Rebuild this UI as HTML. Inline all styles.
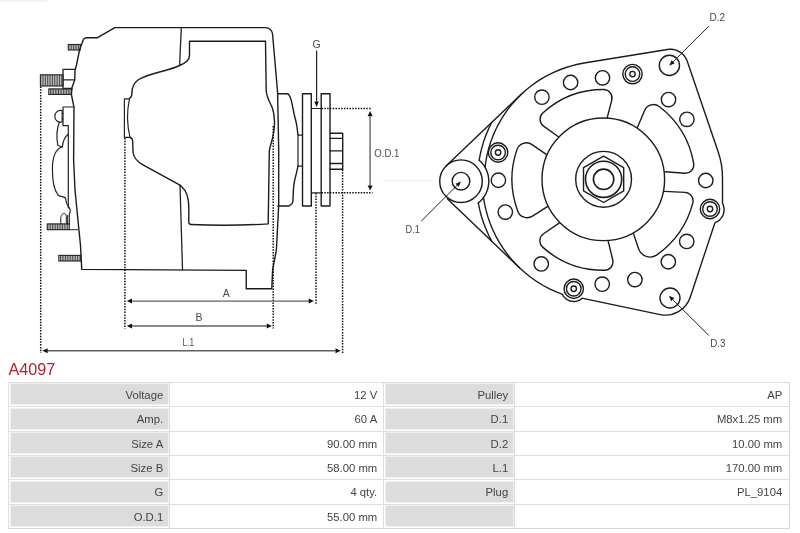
<!DOCTYPE html>
<html><head><meta charset="utf-8"><title>A4097</title>
<style>
html,body{margin:0;padding:0;background:#fff}
body{width:800px;height:533px;position:relative;overflow:hidden;font-family:"Liberation Sans",sans-serif}
#w{position:absolute;left:0;top:0;width:800px;height:533px;will-change:transform;transform:translateZ(0)}
.ttl{position:absolute;left:8.5px;top:359.8px;font-size:16.2px;color:#b3212e;line-height:18px;white-space:nowrap}
.tb{position:absolute;box-sizing:border-box;border:1px solid #d6d6d6}
.c{position:absolute;box-sizing:border-box;border:1px solid #dedede;border-width:1px 0 0 1px;font-size:11.3px;color:#444;text-align:right;white-space:nowrap}
.c span{position:absolute;right:6px;top:0;line-height:24.2px}
.c.l::before{content:"";position:absolute;left:1.5px;top:1.4px;right:1.5px;bottom:1.9px;background:#dcdcdc;box-shadow:0 0 0 0.8px #ececec}
.c.l span{right:5.8px}
.c.v span{right:5.8px}
.c.w span{right:6.8px}
</style></head><body><div id="w">
<svg width="800" height="360" viewBox="0 0 800 360" style="position:absolute;left:0;top:0" font-family="Liberation Sans, sans-serif"><defs><pattern id="h" width="1.6" height="4" patternUnits="userSpaceOnUse"><rect width="1.6" height="4" fill="#fff"/><rect x="0" width="0.8" height="4" fill="#333"/></pattern></defs>
<path d="M558.4,136.75 L543.59,126.1 A8.5,8.5 0 0 1 542.82,112.92 A89.8,89.8 0 0 1 603.57,89.5 A8.5,8.5 0 0 1 611.77,100.13 L607.2,117.8" stroke="#1c1c1c" stroke-width="1.4" fill="none" stroke-linejoin="round" stroke-linecap="round" />
<path d="M637.4,127.4 L644.7,110.3 A9.5,9.5 0 0 1 659.22,106.5 A91.8,91.8 0 0 1 693.69,163.27 A8.5,8.5 0 0 1 684.66,173.23 L665.1,171.7" stroke="#1c1c1c" stroke-width="1.4" fill="none" stroke-linejoin="round" stroke-linecap="round" />
<path d="M664.4,191.35 L685.01,192.4 A8.5,8.5 0 0 1 692.8,203.07 A92.6,92.6 0 0 1 656.9,254.81 A12,12 0 0 1 638.57,248.82 L633.5,233.6" stroke="#1c1c1c" stroke-width="1.4" fill="none" stroke-linejoin="round" stroke-linecap="round" />
<path d="M608.1,240.85 L612.73,259.77 A8.5,8.5 0 0 1 604.6,270.29 A91,91 0 0 1 542.65,247.14 A8.5,8.5 0 0 1 543.54,233.77 L559.1,223.2" stroke="#1c1c1c" stroke-width="1.4" fill="none" stroke-linejoin="round" stroke-linecap="round" />
<path d="M547.4,206.7 L532.5,216.17 A10,10 0 0 1 517.77,211.23 A91.3,91.3 0 0 1 516.96,149.62 A10,10 0 0 1 532.04,144.6 L546.3,154.3" stroke="#1c1c1c" stroke-width="1.4" fill="none" stroke-linejoin="round" stroke-linecap="round" />
<circle cx="603.3" cy="179.3" r="61.3" stroke="#1c1c1c" stroke-width="1.4" fill="#fff" stroke-linejoin="round" stroke-linecap="round" />
<circle cx="603.6" cy="179.3" r="27.9" stroke="#1c1c1c" stroke-width="1.4" fill="none" stroke-linejoin="round" stroke-linecap="round" />
<circle cx="603.6" cy="179.3" r="18.1" stroke="#1c1c1c" stroke-width="1.6" fill="none" stroke-linejoin="round" stroke-linecap="round" />
<circle cx="603.6" cy="179.3" r="10.2" stroke="#1c1c1c" stroke-width="1.6" fill="none" stroke-linejoin="round" stroke-linecap="round" />
<path d="M603.6,156.1 L583.51,167.7 L583.51,190.9 L603.6,202.5 L623.69,190.9 L623.69,167.7 Z" stroke="#1c1c1c" stroke-width="1.4" fill="none" stroke-linejoin="round" stroke-linecap="round" />
<circle cx="541.9" cy="97.15" r="7.2" stroke="#1c1c1c" stroke-width="1.4" fill="none" stroke-linejoin="round" stroke-linecap="round" />
<circle cx="570.6" cy="82.5" r="7.2" stroke="#1c1c1c" stroke-width="1.4" fill="none" stroke-linejoin="round" stroke-linecap="round" />
<circle cx="602.5" cy="77.8" r="7.2" stroke="#1c1c1c" stroke-width="1.4" fill="none" stroke-linejoin="round" stroke-linecap="round" />
<circle cx="668.5" cy="99.6" r="7.2" stroke="#1c1c1c" stroke-width="1.4" fill="none" stroke-linejoin="round" stroke-linecap="round" />
<circle cx="686.9" cy="119.3" r="7.2" stroke="#1c1c1c" stroke-width="1.4" fill="none" stroke-linejoin="round" stroke-linecap="round" />
<circle cx="705.75" cy="180.5" r="7.2" stroke="#1c1c1c" stroke-width="1.4" fill="none" stroke-linejoin="round" stroke-linecap="round" />
<circle cx="686.7" cy="241.4" r="7.2" stroke="#1c1c1c" stroke-width="1.4" fill="none" stroke-linejoin="round" stroke-linecap="round" />
<circle cx="668.3" cy="261.75" r="7.2" stroke="#1c1c1c" stroke-width="1.4" fill="none" stroke-linejoin="round" stroke-linecap="round" />
<circle cx="634.9" cy="279.6" r="7.2" stroke="#1c1c1c" stroke-width="1.4" fill="none" stroke-linejoin="round" stroke-linecap="round" />
<circle cx="602.2" cy="284.2" r="7.2" stroke="#1c1c1c" stroke-width="1.4" fill="none" stroke-linejoin="round" stroke-linecap="round" />
<circle cx="541.25" cy="263.9" r="7.2" stroke="#1c1c1c" stroke-width="1.4" fill="none" stroke-linejoin="round" stroke-linecap="round" />
<circle cx="505.3" cy="212.1" r="7.2" stroke="#1c1c1c" stroke-width="1.4" fill="none" stroke-linejoin="round" stroke-linecap="round" />
<circle cx="498.4" cy="180.25" r="7.2" stroke="#1c1c1c" stroke-width="1.4" fill="none" stroke-linejoin="round" stroke-linecap="round" />
<circle cx="632.5" cy="74.1" r="9.7" stroke="#1c1c1c" stroke-width="1.4" fill="none" stroke-linejoin="round" stroke-linecap="round" />
<circle cx="632.5" cy="74.1" r="7.3" stroke="#1c1c1c" stroke-width="1.4" fill="none" stroke-linejoin="round" stroke-linecap="round" />
<circle cx="632.5" cy="74.1" r="2.7" stroke="#1c1c1c" stroke-width="1.4" fill="none" stroke-linejoin="round" stroke-linecap="round" />
<circle cx="498.1" cy="152.5" r="9.7" stroke="#1c1c1c" stroke-width="1.4" fill="none" stroke-linejoin="round" stroke-linecap="round" />
<circle cx="498.1" cy="152.5" r="7.3" stroke="#1c1c1c" stroke-width="1.4" fill="none" stroke-linejoin="round" stroke-linecap="round" />
<circle cx="498.1" cy="152.5" r="2.7" stroke="#1c1c1c" stroke-width="1.4" fill="none" stroke-linejoin="round" stroke-linecap="round" />
<circle cx="573.75" cy="288.75" r="9.7" stroke="#1c1c1c" stroke-width="1.4" fill="none" stroke-linejoin="round" stroke-linecap="round" />
<circle cx="573.75" cy="288.75" r="7.3" stroke="#1c1c1c" stroke-width="1.4" fill="none" stroke-linejoin="round" stroke-linecap="round" />
<circle cx="573.75" cy="288.75" r="2.7" stroke="#1c1c1c" stroke-width="1.4" fill="none" stroke-linejoin="round" stroke-linecap="round" />
<circle cx="710" cy="209" r="9.7" stroke="#1c1c1c" stroke-width="1.4" fill="none" stroke-linejoin="round" stroke-linecap="round" />
<circle cx="710" cy="209" r="7.3" stroke="#1c1c1c" stroke-width="1.4" fill="none" stroke-linejoin="round" stroke-linecap="round" />
<circle cx="710" cy="209" r="2.7" stroke="#1c1c1c" stroke-width="1.4" fill="none" stroke-linejoin="round" stroke-linecap="round" />
<circle cx="669.4" cy="65.4" r="10.1" stroke="#1c1c1c" stroke-width="1.4" fill="none" stroke-linejoin="round" stroke-linecap="round" />
<circle cx="670" cy="298" r="10" stroke="#1c1c1c" stroke-width="1.4" fill="none" stroke-linejoin="round" stroke-linecap="round" />
<circle cx="461" cy="181.2" r="21.3" stroke="#1c1c1c" stroke-width="1.4" fill="none" stroke-linejoin="round" stroke-linecap="round" />
<circle cx="461" cy="181.2" r="8.8" stroke="#1c1c1c" stroke-width="1.4" fill="none" stroke-linejoin="round" stroke-linecap="round" />
<path d="M446.3,165.79 L521.17,94.38 L525.99,90.04 L531.03,85.96 L536.29,82.16 L541.74,78.66 L547.38,75.45 L553.19,72.56 L559.14,70 L565.23,67.75 L571.43,65.85 L577.72,64.28 L584.09,63.06 L667.39,49.44 L669.33,49.23 L671.27,49.23 L673.2,49.44 L675.1,49.85 L676.95,50.47 L678.71,51.29 L680.38,52.29 L681.93,53.46 L683.34,54.79 L684.6,56.27 L685.7,57.88 L686.61,59.6 L687.34,61.4 L718.22,151.94 A80,80 0 0 1 722.5,177.76 L722.5,202.76 A1.5,1.5 0 0 0 722.62,203.36 L723.3,204.91 L723.82,206.83 L724.08,208.81 L724.05,210.8 L723.74,212.77 L723.15,214.68 L722.31,216.48 L721.21,218.15 L719.89,219.65 L718.38,220.94 L716.69,222.01 L715.67,222.47 A2,2 0 0 0 714.6,223.66 L690.23,297.29 A26,26 0 0 1 660.2,314.57 L582.9,298.34 A1.2,1.2 0 0 0 581.92,298.56 L580.92,299.34 L579.34,300.24 L577.66,300.91 L575.89,301.33 L574.08,301.5 L572.27,301.41 L570.49,301.06 L568.77,300.47 L567.16,299.64 L565.68,298.59 L564.36,297.34 L563.23,295.92 L562.52,294.71 A1.2,1.2 0 0 0 561.93,294.2 L555.61,291.71 L549.07,288.67 L542.73,285.25 L536.6,281.45 L530.7,277.3 L525.07,272.81 L519.71,267.99 L447.3,198.8" stroke="#1c1c1c" stroke-width="1.4" fill="none" stroke-linejoin="round" stroke-linecap="round" />
<path d="M491.65,122.54 L488.75,128.5 L486.17,134.61 L483.91,140.85 L481.99,147.2 L480.4,153.63 L479.16,160.15" stroke="#1c1c1c" stroke-width="1.4" fill="none" stroke-linejoin="round" stroke-linecap="round" />
<path d="M478.3,202.96 L479.69,209.63 L481.42,216.21 L483.51,222.69 L485.95,229.05 L488.72,235.27 L491.82,241.34" stroke="#1c1c1c" stroke-width="1.4" fill="none" stroke-linejoin="round" stroke-linecap="round" />
<path d="M479.16,160.15 L481.36,162.27 L483.31,164.61 L484.99,167.16 L486.39,169.88 L487.48,172.73 L488.25,175.68 L488.69,178.7 L488.79,181.76 L488.57,184.8 L488,187.8 L487.12,190.72 L485.92,193.53 L484.41,196.19 L482.63,198.66 L480.58,200.93 L478.3,202.96" stroke="#1c1c1c" stroke-width="1.4" fill="none" stroke-linejoin="round" stroke-linecap="round" />
<path d="M521.17,94.38 L516.67,98.91 L512.42,103.67 L508.43,108.66 L504.72,113.85 L501.29,119.23 L498.15,124.79 L495.31,130.51 L492.78,136.37 L490.58,142.36 L488.69,148.46 L487.14,154.65 L485.92,160.92 L485.04,167.24" stroke="#1c1c1c" stroke-width="1.4" fill="none" stroke-linejoin="round" stroke-linecap="round" />
<path d="M483.5,197.52 L484.63,204.15 L486.13,210.71 L487.99,217.17 L490.21,223.52 L492.77,229.74 L495.68,235.8 L498.92,241.7 L502.48,247.4 L506.35,252.9 L510.52,258.17 L514.98,263.21 L519.71,267.99" stroke="#1c1c1c" stroke-width="1.4" fill="none" stroke-linejoin="round" stroke-linecap="round" />
<line x1="708.85" y1="26.1" x2="673.14" y2="61.81" stroke="#222" stroke-width="1"/>
<polygon points="669.25,65.7 671.58,60.26 674.69,63.37" fill="#111"/>
<line x1="421.2" y1="221.2" x2="457.11" y2="185.29" stroke="#222" stroke-width="1"/>
<polygon points="461,181.4 458.67,186.84 455.56,183.73" fill="#111"/>
<line x1="708.75" y1="335.4" x2="672.8" y2="299.68" stroke="#222" stroke-width="1"/>
<polygon points="668.9,295.8 674.35,298.12 671.25,301.24" fill="#111"/>
<text x="709.6" y="20.9" font-size="10.5" text-anchor="start" fill="#4a4a4a" textLength="15.6" lengthAdjust="spacingAndGlyphs">D.2</text>
<text x="405.6" y="232.9" font-size="10.5" text-anchor="start" fill="#4a4a4a" textLength="14.4" lengthAdjust="spacingAndGlyphs">D.1</text>
<text x="710.2" y="347" font-size="10.5" text-anchor="start" fill="#4a4a4a" textLength="15.2" lengthAdjust="spacingAndGlyphs">D.3</text>
<rect x="68.3" y="44.5" width="12" height="5.5" fill="#e4e4e4" stroke="#222" stroke-width="1.1"/>
<path d="M70.01,44.5 V50 M71.73,44.5 V50 M73.44,44.5 V50 M75.16,44.5 V50 M76.87,44.5 V50 M78.59,44.5 V50" stroke="#222" stroke-width="0.8" fill="none"/>
<rect x="40.4" y="74.8" width="22.6" height="11.2" fill="#e4e4e4" stroke="#222" stroke-width="1.1"/>
<path d="M42.14,74.8 V86 M43.88,74.8 V86 M45.62,74.8 V86 M47.35,74.8 V86 M49.09,74.8 V86 M50.83,74.8 V86 M52.57,74.8 V86 M54.31,74.8 V86 M56.05,74.8 V86 M57.78,74.8 V86 M59.52,74.8 V86 M61.26,74.8 V86" stroke="#222" stroke-width="0.8" fill="none"/>
<rect x="48.8" y="88.9" width="22.7" height="5.5" fill="#e4e4e4" stroke="#222" stroke-width="1.1"/>
<path d="M50.42,88.9 V94.4 M52.04,88.9 V94.4 M53.66,88.9 V94.4 M55.29,88.9 V94.4 M56.91,88.9 V94.4 M58.53,88.9 V94.4 M60.15,88.9 V94.4 M61.77,88.9 V94.4 M63.39,88.9 V94.4 M65.01,88.9 V94.4 M66.64,88.9 V94.4 M68.26,88.9 V94.4 M69.88,88.9 V94.4" stroke="#222" stroke-width="0.8" fill="none"/>
<rect x="47.3" y="223.9" width="22" height="5.8" fill="#e4e4e4" stroke="#222" stroke-width="1.1"/>
<path d="M48.99,223.9 V229.7 M50.68,223.9 V229.7 M52.38,223.9 V229.7 M54.07,223.9 V229.7 M55.76,223.9 V229.7 M57.45,223.9 V229.7 M59.15,223.9 V229.7 M60.84,223.9 V229.7 M62.53,223.9 V229.7 M64.22,223.9 V229.7 M65.92,223.9 V229.7 M67.61,223.9 V229.7" stroke="#222" stroke-width="0.8" fill="none"/>
<rect x="58.8" y="255.4" width="22" height="5.6" fill="#e4e4e4" stroke="#222" stroke-width="1.1"/>
<path d="M60.49,255.4 V261 M62.18,255.4 V261 M63.88,255.4 V261 M65.57,255.4 V261 M67.26,255.4 V261 M68.95,255.4 V261 M70.65,255.4 V261 M72.34,255.4 V261 M74.03,255.4 V261 M75.72,255.4 V261 M77.42,255.4 V261 M79.11,255.4 V261" stroke="#222" stroke-width="0.8" fill="none"/>
<path d="M97.6,37.7 L114.8,27.6 L265.58,27.6 A7,7 0 0 1 272.55,34 L277.6,92.5 L278.7,150 L278.7,205 L276.5,247.95 A30,30 0 0 1 276.02,252.02 L272.74,269.29 A10,10 0 0 0 272.57,270.73 L271.8,288.75 L246.25,288.75 L246.25,270.4 L81.75,269.4 L80.5,245.5 L77.5,215.54 A40,40 0 0 1 77.5,215.46 L75.1,191.02 A40,40 0 0 1 74.95,188.98 L73.65,161.08 A40,40 0 0 1 73.61,158.92 L74,107.3 L71.4,94.5 L72,87.5 L74.7,80 L75.1,70 L76.5,65 L79.2,51.51 A20,20 0 0 1 80.03,48.56 L83.16,40 A3.5,3.5 0 0 1 86.45,37.7 L97.6,37.7" stroke="#1c1c1c" stroke-width="1.4" fill="none" stroke-linejoin="round" stroke-linecap="round" />
<path d="M75.2,69.3 L63,69.3 L63,88.4 L72,88.4 M63,79.8 L74.7,79.8" stroke="#222" stroke-width="1.3" fill="none" stroke-linejoin="round" stroke-linecap="round" />
<path d="M69.3,229.7 L77.8,229.7" stroke="#222" stroke-width="1" fill="none" stroke-linejoin="round" stroke-linecap="round" />
<path d="M181.3,27.6 L179.6,65.3" stroke="#222" stroke-width="1.3" fill="none" stroke-linejoin="round" stroke-linecap="round" />
<path d="M180,185 L182.5,269.6" stroke="#222" stroke-width="1.3" fill="none" stroke-linejoin="round" stroke-linecap="round" />
<path d="M129.5,98.4 C131.6,97.2 132,95.5 132,92.5 C132,86.5 134,83 138,80 C145,75.3 154,73.4 162.5,71.2 C169,69.5 175,67.6 179.5,65.5 C186.5,62.3 189.5,60 189.5,55 L189.5,41.3 L265.5,41.3 L266.2,90.5 C266.4,97 270,102.5 272.2,107.5 C274.6,114 274.8,124 273.9,131 C273,139 270,145.5 269.3,151 L268.2,223.9 Q229,226.3 191,224.5 Q188.9,224.4 188.8,222.3 L188.75,206 C188.6,198 186.5,191 182,187 C181,186 180,185.2 178.6,184.4 L143,164.8 C137,161.5 133.5,157.5 133,152 L132.7,141.5 C132.7,139.3 131.6,137.9 130,137.5" stroke="#1c1c1c" stroke-width="1.4" fill="none" stroke-linejoin="round" stroke-linecap="round" />
<path d="M129.5,98.9 L124.4,98.9 L124.4,137.4 L130,137.4" stroke="#222" stroke-width="1.2" fill="none" stroke-linejoin="round" stroke-linecap="round" />
<path d="M129.5,98.9 Q125.3,118 130,137.4" stroke="#222" stroke-width="1.2" fill="none" stroke-linejoin="round" stroke-linecap="round" />
<path d="M277.8,93.7 L286.71,93.7 A3,3 0 0 1 289.52,95.66 L290.95,99.51 A20,20 0 0 1 291.81,102.56 L293.92,113.18 A40,40 0 0 0 294.33,115.01 L296.12,122.28 A40,40 0 0 1 296.99,126.98 L298,135.1" stroke="#1c1c1c" stroke-width="1.4" fill="none" stroke-linejoin="round" stroke-linecap="round" />
<path d="M298,135.1 L302.5,135.1 M298,166.1 L302.5,166.1 M298,135.1 L298,166.1" stroke="#222" stroke-width="1.2" fill="none" stroke-linejoin="round" stroke-linecap="round" />
<path d="M298,166.1 L296.82,171.45 A40,40 0 0 1 296.56,172.55 L294.86,179.38 A40,40 0 0 0 293.82,185.5 L293.48,189.35 A40,40 0 0 0 293.36,191.05 L292.87,201.41 A3.5,3.5 0 0 1 291.55,203.99 L289,206 L277.8,206" stroke="#1c1c1c" stroke-width="1.4" fill="none" stroke-linejoin="round" stroke-linecap="round" />
<path d="M302.5,93.7 H311.3 V206 H302.5 Z" stroke="#1c1c1c" stroke-width="1.4" fill="none" stroke-linejoin="round" stroke-linecap="round" />
<path d="M321.2,93.7 H330 V206 H321.2 Z" stroke="#1c1c1c" stroke-width="1.4" fill="none" stroke-linejoin="round" stroke-linecap="round" />
<path d="M311.3,108.5 H321.2 M311.3,192.8 H321.2" stroke="#222" stroke-width="1.2" fill="none" stroke-linejoin="round" stroke-linecap="round" />
<path d="M330,133.3 H342.7 V169.2 H330 M330,138.4 H342.7 M330,150.9 H342.7 M330,163.5 H342.7" stroke="#1c1c1c" stroke-width="1.4" fill="none" stroke-linejoin="round" stroke-linecap="round" />
<path d="M63,107 H73.9 M63,107 V125.6 H68.3 V208" stroke="#222" stroke-width="1.2" fill="none" stroke-linejoin="round" stroke-linecap="round" />
<path d="M62.2,110.6 C57.5,109.8 54.8,113 54.8,116.3 C54.8,119.8 57.5,122.9 62.2,122 Z" stroke="#222" stroke-width="1.2" fill="none" stroke-linejoin="round" stroke-linecap="round" />
<path d="M62.2,113.5 H63 M62.2,119 H63" stroke="#222" stroke-width="1" fill="none" stroke-linejoin="round" stroke-linecap="round" />
<path d="M59.3,122.3 C57,128 56.5,138 57.8,145.5 L62.3,147 C63,141 64.5,137 68.3,134" stroke="#222" stroke-width="1.2" fill="none" stroke-linejoin="round" stroke-linecap="round" />
<path d="M62.3,146.8 C55.5,149 52.6,158 52.4,168 C52.3,180 54,190 58,195 C61,197.5 64,196.5 65.5,198 C66,202 67.5,206 69.8,208.5 C71,211 70,213 69.3,214.5 V224" stroke="#222" stroke-width="1.2" fill="none" stroke-linejoin="round" stroke-linecap="round" />
<path d="M60.8,223.8 V218 C61,214.5 63,212.8 65,213.6 C66.3,214.3 66.3,216 66.3,217 V223.8 M67.6,215.5 V223.8" stroke="#222" stroke-width="1" fill="none" stroke-linejoin="round" stroke-linecap="round" />
<line x1="40.7" y1="86.5" x2="40.7" y2="353" stroke="#111" stroke-width="1.5" fill="none" stroke-dasharray="1.5 1.3"/>
<line x1="124.9" y1="138" x2="124.9" y2="329" stroke="#111" stroke-width="1.5" fill="none" stroke-dasharray="1.5 1.3"/>
<line x1="273.2" y1="126" x2="273.2" y2="328.5" stroke="#111" stroke-width="1.5" fill="none" stroke-dasharray="1.5 1.3"/>
<line x1="316" y1="193" x2="316" y2="304.5" stroke="#111" stroke-width="1.5" fill="none" stroke-dasharray="1.5 1.3"/>
<line x1="342.6" y1="169.5" x2="342.6" y2="353" stroke="#111" stroke-width="1.5" fill="none" stroke-dasharray="1.5 1.3"/>
<line x1="321.5" y1="108.6" x2="371" y2="108.6" stroke="#111" stroke-width="1.5" fill="none" stroke-dasharray="1.5 1.3"/>
<line x1="321.5" y1="192.8" x2="372.5" y2="192.8" stroke="#111" stroke-width="1.5" fill="none" stroke-dasharray="1.5 1.3"/>
<line x1="131.5" y1="301.1" x2="308.7" y2="301.1" stroke="#606060" stroke-width="1.35"/>
<polygon points="126.8,301.1 132,303.6 132,298.6" fill="#111"/>
<polygon points="313.9,301.1 308.7,303.6 308.7,298.6" fill="#111"/>
<line x1="131.5" y1="326" x2="266.7" y2="326" stroke="#606060" stroke-width="1.35"/>
<polygon points="126.8,326 132,328.5 132,323.5" fill="#111"/>
<polygon points="271.9,326 266.7,328.5 266.7,323.5" fill="#111"/>
<line x1="47.1" y1="350.7" x2="335.5" y2="350.7" stroke="#606060" stroke-width="1.35"/>
<polygon points="42.4,350.7 47.6,353.2 47.6,348.2" fill="#111"/>
<polygon points="340.7,350.7 335.5,353.2 335.5,348.2" fill="#111"/>
<line x1="370.1" y1="116.2" x2="370.1" y2="185.4" stroke="#606060" stroke-width="1.35"/>
<polygon points="370.1,111 367.6,116.2 372.6,116.2" fill="#111"/>
<polygon points="370.1,190.6 367.6,185.4 372.6,185.4" fill="#111"/>
<line x1="316.6" y1="50.6" x2="316.6" y2="101.4" stroke="#222" stroke-width="1.2"/>
<polygon points="316.6,106.9 314.3,101.4 318.9,101.4" fill="#111"/>
<text x="316.6" y="47.5" font-size="10.5" text-anchor="middle" fill="#4a4a4a" >G</text>
<text x="374.3" y="156.9" font-size="10.8" text-anchor="start" fill="#4a4a4a" textLength="25" lengthAdjust="spacingAndGlyphs">O.D.1</text>
<text x="226.3" y="296.6" font-size="10.5" text-anchor="middle" fill="#4a4a4a" >A</text>
<text x="198.9" y="321.1" font-size="10.5" text-anchor="middle" fill="#4a4a4a" >B</text>
<text x="182.5" y="345.7" font-size="10.5" text-anchor="start" fill="#4a4a4a" textLength="11.5" lengthAdjust="spacingAndGlyphs">L.1</text>
<line x1="0" y1="1" x2="47" y2="1" stroke="#e8e8e8" stroke-width="1"/>
<line x1="383" y1="180.3" x2="431" y2="180.3" stroke="#ececec" stroke-width="1"/>
</svg>
<div class="ttl">A4097</div>
<div class="tb" style="left:8px;top:382px;width:782px;height:146.5px"></div>
<div class="c l" style="left:8px;top:382px;width:161px;height:24.33px"><span>Voltage</span></div>
<div class="c v" style="left:169px;top:382px;width:214px;height:24.33px"><span>12 V</span></div>
<div class="c l" style="left:383px;top:382px;width:131px;height:24.33px"><span>Pulley</span></div>
<div class="c v w" style="left:514px;top:382px;width:275px;height:24.33px"><span>AP</span></div>
<div class="c l" style="left:8px;top:406.33px;width:161px;height:24.33px"><span>Amp.</span></div>
<div class="c v" style="left:169px;top:406.33px;width:214px;height:24.33px"><span>60 A</span></div>
<div class="c l" style="left:383px;top:406.33px;width:131px;height:24.33px"><span>D.1</span></div>
<div class="c v w" style="left:514px;top:406.33px;width:275px;height:24.33px"><span>M8x1.25 mm</span></div>
<div class="c l" style="left:8px;top:430.67px;width:161px;height:24.33px"><span>Size A</span></div>
<div class="c v" style="left:169px;top:430.67px;width:214px;height:24.33px"><span>90.00 mm</span></div>
<div class="c l" style="left:383px;top:430.67px;width:131px;height:24.33px"><span>D.2</span></div>
<div class="c v w" style="left:514px;top:430.67px;width:275px;height:24.33px"><span>10.00 mm</span></div>
<div class="c l" style="left:8px;top:455px;width:161px;height:24.33px"><span>Size B</span></div>
<div class="c v" style="left:169px;top:455px;width:214px;height:24.33px"><span>58.00 mm</span></div>
<div class="c l" style="left:383px;top:455px;width:131px;height:24.33px"><span>L.1</span></div>
<div class="c v w" style="left:514px;top:455px;width:275px;height:24.33px"><span>170.00 mm</span></div>
<div class="c l" style="left:8px;top:479.33px;width:161px;height:24.33px"><span>G</span></div>
<div class="c v" style="left:169px;top:479.33px;width:214px;height:24.33px"><span>4 qty.</span></div>
<div class="c l" style="left:383px;top:479.33px;width:131px;height:24.33px"><span>Plug</span></div>
<div class="c v w" style="left:514px;top:479.33px;width:275px;height:24.33px"><span>PL_9104</span></div>
<div class="c l" style="left:8px;top:503.67px;width:161px;height:24.33px"><span>O.D.1</span></div>
<div class="c v" style="left:169px;top:503.67px;width:214px;height:24.33px"><span>55.00 mm</span></div>
<div class="c l" style="left:383px;top:503.67px;width:131px;height:24.33px"><span></span></div>
<div class="c v w" style="left:514px;top:503.67px;width:275px;height:24.33px"><span></span></div>
</div></body></html>
